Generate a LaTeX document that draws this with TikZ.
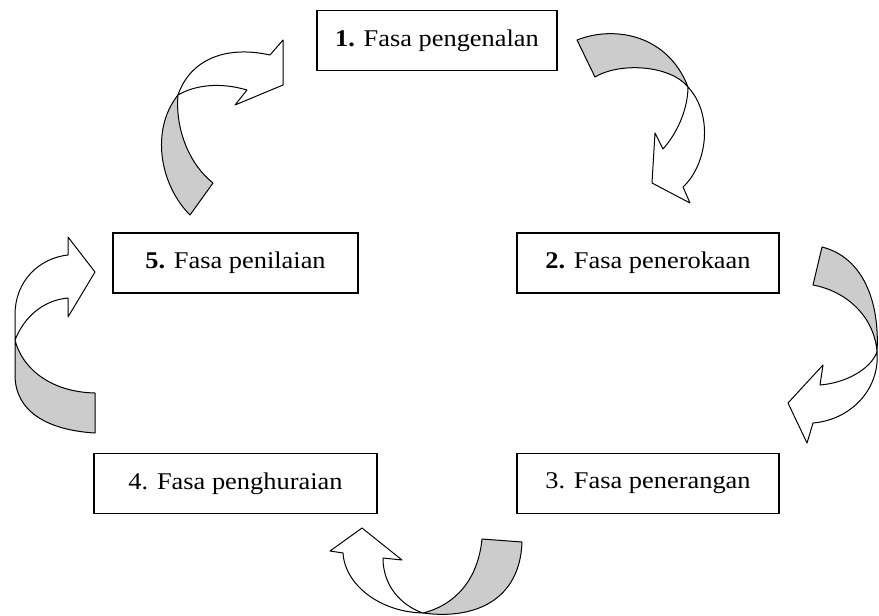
\documentclass[tikz,border=0pt]{standalone}
\usepackage{fontspec}
\setmainfont{Liberation Serif}[FakeStretch=1.1]

\begin{document}
\begin{tikzpicture}[x=1pt, y=-1pt,
  fasa/.style={draw, line width=1.3pt, minimum height=60pt, inner sep=0pt,
    font=\fontsize{24}{28}\selectfont},
  back/.style={draw, line width=1pt, fill=black!20, line join=round},
  front/.style={draw, line width=1pt, fill=white, line join=round}]

  \useasboundingbox (0,0) rectangle (879,616);

  % fase boxes
  \node[fasa, minimum width=240pt] (f1) at (437,40.5)  {\textbf{1.} Fasa pengenalan};
  \node[fasa, minimum width=262pt] (f2) at (648,263)   {\textbf{2.} Fasa penerokaan};
  \node[fasa, minimum width=262pt] (f3) at (648,483.5) {3. Fasa penerangan};
  \node[fasa, minimum width=283pt] (f4) at (235.5,483.5) {4. Fasa penghuraian};
  \node[fasa, minimum width=245pt] (f5) at (235.5,263) {\textbf{5.} Fasa penilaian};

  % arrow 1 -> 2
  \coordinate (t12) at (688,87);
  \draw[back] (577,40) .. controls (615,25) and (668,35) .. (t12)
    .. controls (670,65) and (620,62) .. (595,77) -- cycle;
  \draw[front] (t12) .. controls (714,115) and (707,165) .. (683,187)
    -- (690,203) -- (652,183) -- (655,133) -- (663,149)
    .. controls (680,130) and (688,105) .. (t12) -- cycle;

  % arrow 2 -> 3
  \coordinate (t23) at (877,352);
  \draw[back] (822,247) .. controls (862,257) and (880,300) .. (t23)
    .. controls (875,320) and (850,292) .. (813,285) -- cycle;
  \draw[front] (t23) .. controls (880,390) and (850,420) .. (813,423)
    -- (807,443) -- (788,403) -- (823,365) -- (820,385)
    .. controls (845,383) and (870,370) .. (t23) -- cycle;

  % arrow 3 -> 4
  \coordinate (t34) at (423,613);
  \draw[back] (522,542) .. controls (520,600) and (475,620) .. (t34)
    .. controls (455,605) and (478,580) .. (482,539) -- cycle;
  \draw[front] (t34) .. controls (380,612) and (345,585) .. (343,553)
    -- (330,551) -- (362,528) -- (402,560) -- (383,558)
    .. controls (383,585) and (400,605) .. (t34) -- cycle;

  % arrow 4 -> 5
  \coordinate (t45) at (15,340);
  \draw[back] (95,433) .. controls (45,430) and (15,410) .. (15,375) -- (t45)
    .. controls (22,368) and (50,392) .. (95,393) -- cycle;
  \draw[front] (t45) -- (15,315) .. controls (15,280) and (40,258) .. (68,255)
    -- (68,237) -- (95,272) -- (68,317) -- (68,298)
    .. controls (45,300) and (25,315) .. (t45) -- cycle;

  % arrow 5 -> 1
  \coordinate (t51) at (178,95);
  \draw[back] (190,215) .. controls (160,185) and (150,130) .. (t51)
    .. controls (175,130) and (190,165) .. (213,183) -- cycle;
  \draw[front] (t51) .. controls (190,60) and (225,45) .. (270,55)
    -- (283,40) -- (283,85) -- (235,105) -- (247,90)
    .. controls (220,82) and (195,85) .. (t51) -- cycle;

\end{tikzpicture}
\end{document}
